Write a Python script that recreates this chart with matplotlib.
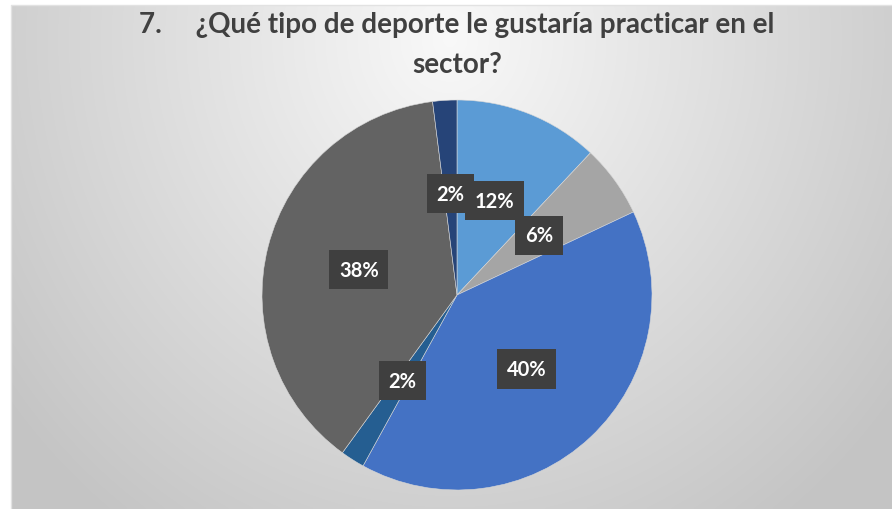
import numpy as np
import matplotlib
matplotlib.use('Agg')
import matplotlib.pyplot as plt

# datos
etiquetas = ['12%', '6%', '40%', '2%', '38%', '2%']
valores = [12, 6, 40, 2, 38, 2]
colores = ['#5B9BD5', '#A5A5A5', '#4472C4', '#255E91', '#636363', '#264478']
titulo = '7.     ¿Qué tipo de deporte le gustaría practicar en el\nsector?'

plt.rcParams['font.family'] = ['Lato', 'DejaVu Sans']

W, H = 892, 510
fig = plt.figure(figsize=(W / 100, H / 100), dpi=100)

# fondo con degradado radial (marco del grafico)
bg = fig.add_axes([0, 0, 1, 1])
bg.set_xlim(0, W)
bg.set_ylim(H, 0)
bg.axis('off')
gx, gy = np.meshgrid(np.linspace(11, W, 300), np.linspace(6, H, 200))
d = np.sqrt(((gx - 450) / 520) ** 2 + ((gy - 40) / 560) ** 2)
g = np.clip(0.975 - 0.19 * d, 0.77, 0.975)
bg.imshow(np.dstack([g, g, g]), extent=(11, W, H, 6), aspect='auto',
          interpolation='bilinear', zorder=0)
bg.plot([11, 11, W], [H, 6, 6], color='#e2e2e2', lw=1, zorder=1)

bg.text(457, 45, titulo, ha='center', va='center', fontsize=20,
        fontweight='bold', color='#404040', linespacing=1.65)

# pastel
cx, cy, R = 457, 296, 195
ax = fig.add_axes([(cx - R) / W, (H - cy - R) / H, 2 * R / W, 2 * R / H])
wedges, textos = ax.pie(valores, colors=colores, startangle=90, counterclock=False,
                        radius=1, labels=None, labeldistance=None,
                        wedgeprops=dict(edgecolor='#d8d8d8', linewidth=0.4))
ax.set_xlim(-1, 1)
ax.set_ylim(-1, 1)
ax.set_aspect('auto')
ax.axis('off')

ang0 = 90.0
total = float(sum(valores))
for val, lab in zip(valores, etiquetas):
    mid = ang0 - 360 * val / total / 2
    ang0 -= 360 * val / total
    r = 0.52
    ax.text(r * np.cos(np.radians(mid)), r * np.sin(np.radians(mid)), lab,
            ha='center', va='center', fontsize=14.5, fontweight='bold', color='white',
            bbox=dict(boxstyle='square,pad=0.48', facecolor='#3f3f3f',
                      edgecolor='none'))

fig.savefig('out.png', dpi=100)
